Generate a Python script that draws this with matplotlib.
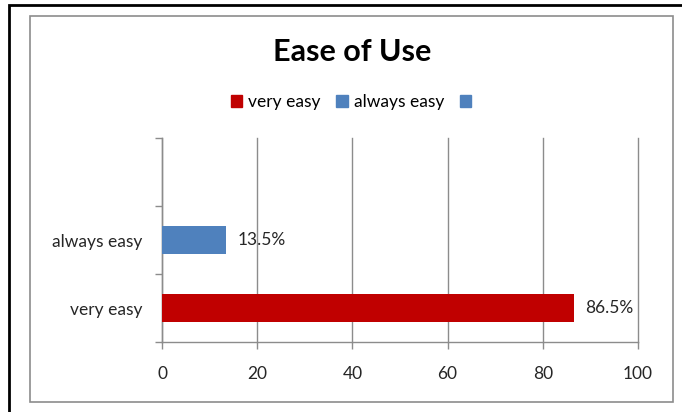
import matplotlib.pyplot as plt
from matplotlib.patches import Patch, Rectangle

categories = ['very easy', 'always easy', '']
values = [86.5, 13.5, None]
labels = ['86.5%', '13.5%', '']
bar_colors = ['#C00000', '#4F81BD', '#4F81BD']
legend_names = ['very easy', 'always easy', '']
x_ticks = [0, 20, 40, 60, 80, 100]

plt.rcParams['font.family'] = ['Lato', 'DejaVu Sans']

fig = plt.figure(figsize=(6.82, 4.12), dpi=100)
W, H = 682, 412

# outer black frame (runs off the right/bottom edge) and inner grey chart border
fig.patches.append(Rectangle((9 / W, -0.1), 1.2, 1 - 5 / H + 0.1, transform=fig.transFigure,
                             fill=False, ec='black', lw=2))
fig.patches.append(Rectangle((30 / W, 1 - 402 / H), (673 - 30) / W, (402 - 16) / H,
                             transform=fig.transFigure, fill=False, ec='#8c8c8c', lw=1.2))

ax = fig.add_axes([162 / W, 1 - 342 / H, (638 - 162) / W, (342 - 138) / H])

pos = list(range(len(categories)))
for i, v in enumerate(values):
    if v is None:
        continue
    ax.barh(pos[i], v, height=0.4, color=bar_colors[i], zorder=3)
    ax.annotate(labels[i], (v, pos[i]), xytext=(8, 0), textcoords='offset points',
                va='center', ha='left', fontsize=12.5, color='#262626')

ax.set_xlim(0, 100)
ax.set_ylim(-0.5, len(categories) - 0.5)
ax.set_xticks(x_ticks)
ax.set_xticklabels([str(t) for t in x_ticks], fontsize=12.5, color='#262626')
ax.tick_params(axis='x', length=5, width=1, color='#8c8c8c', pad=12)
ax.xaxis.grid(True, color='#8c8c8c', lw=1, zorder=0)
for gl in ax.get_xgridlines():
    gl.set_clip_on(False)

ax.set_yticks([p - 0.5 for p in pos] + [pos[-1] + 0.5])
ax.set_yticklabels([])
ax.set_yticks(pos, minor=True)
ax.set_yticklabels(categories, minor=True, fontsize=12.5, color='#262626')
ax.tick_params(axis='y', which='major', length=5, width=1, color='#8c8c8c')
ax.tick_params(axis='y', which='minor', length=0, pad=14)

for s in ['top', 'right']:
    ax.spines[s].set_visible(False)
for s in ['left', 'bottom']:
    ax.spines[s].set_color('#8c8c8c')
    ax.spines[s].set_linewidth(1)

fig.text(352 / W, 1 - 52 / H, 'Ease of Use', ha='center', va='center',
         fontsize=22, fontweight='bold')

handles = [Patch(color=c) for c in bar_colors]
fig.legend(handles, legend_names, loc='center', bbox_to_anchor=(354 / W, 1 - 102 / H),
           ncol=3, frameon=False, fontsize=12.5, handlelength=0.65, handleheight=0.65,
           handletextpad=0.35, columnspacing=0.9)

fig.savefig('out.png', dpi=100)
